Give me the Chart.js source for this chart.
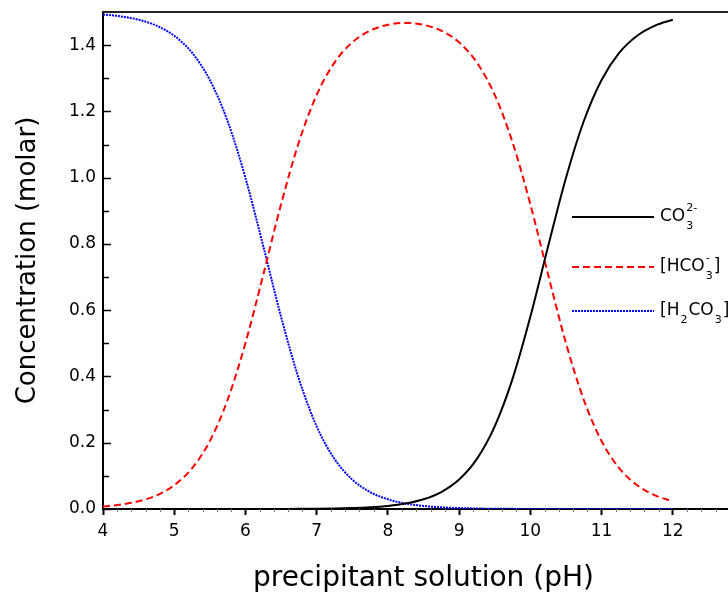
<!DOCTYPE html>
<html>
<head>
<meta charset="utf-8">
<script src="https://cdn.jsdelivr.net/npm/chart.js@4.4.1/dist/chart.umd.min.js"></script>
<style>
  html, body { margin: 0; padding: 0; background: #fff; overflow: hidden; }
  #wrap { width: 728px; height: 596px; overflow: hidden; position: relative; }
  #chart { position: absolute; left: 0; top: 0; }
</style>
</head>
<body>
<div id="wrap"><canvas id="chart" width="780" height="596"></canvas></div>
<script>
// pH values and concentrations (molar)
const phValues = [4, 4.25, 4.5, 4.75, 5, 5.25, 5.5, 5.75, 6, 6.25, 6.5, 6.75, 7, 7.25, 7.5, 7.75,
    8, 8.25, 8.5, 8.75, 9, 9.25, 9.5, 9.75, 10, 10.25, 10.5, 10.75, 11, 11.25, 11.5, 11.75, 12];

const co3 = [0, 0, 0, 0, 0, 0, 0, 0, 0, 0, 0.0002, 0.0004, 0.0008, 0.0015, 0.0028, 0.0051,
    0.0092, 0.0165, 0.0292, 0.0512, 0.0889, 0.1512, 0.2494, 0.3928, 0.5802, 0.7931, 0.9992,
    1.1702, 1.2948, 1.3772, 1.4284, 1.4589, 1.4766];

const hco3 = [0.0075, 0.0133, 0.0234, 0.0411, 0.0716, 0.1228, 0.2052, 0.3298, 0.5008, 0.7069,
    0.9196, 1.1068, 1.2498, 1.3473, 1.4084, 1.4436, 1.4615, 1.4671, 1.4613, 1.4437, 1.4084,
    1.3473, 1.2500, 1.1068, 0.9196, 0.7069, 0.5008, 0.3298, 0.2052, 0.1228, 0.0716, 0.0411, 0.0234];

const h2co3 = [1.4925, 1.4868, 1.4766, 1.4589, 1.4284, 1.3772, 1.2948, 1.1702, 0.9992, 0.7931,
    0.5802, 0.3928, 0.2494, 0.1512, 0.0889, 0.0512, 0.0292, 0.0165, 0.0092, 0.0051, 0.0028,
    0.0015, 0.0008, 0.0004, 0.0002, 0.0001, 0, 0, 0, 0, 0, 0, 0];

const xTicks = [4, 5, 6, 7, 8, 9, 10, 11, 12, 13];
const yTicks = [0, 0.2, 0.4, 0.6, 0.8, 1.0, 1.2, 1.4];

// legend entries: base text, subscript, superscript, trailing text
const legendItems = [
    { base: "CO", sub: "3", sup: "2-", tail: "", color: "#000", dash: [] },
    { base: "[HCO", sub: "3", sup: "-", tail: "]", color: "#ff0000", dash: [7, 4] },
    { base: "[H", sub: "2", sup: "", tail: "CO", sub2: "3", tail2: "]", color: "#0000ff", dash: [2, 1] }
];

function points(ys) {
    return phValues.map((x, i) => ({ x: x, y: ys[i] }));
}

const fontFam = "'DejaVu Sans', sans-serif";

const extrasPlugin = {
    id: "extras",
    afterDraw(chart) {
        const ctx = chart.ctx;
        const area = chart.chartArea;
        const xs = chart.scales.x;
        const ys = chart.scales.y;
        ctx.save();
        // top border
        ctx.strokeStyle = "#222";
        ctx.lineWidth = 2;
        ctx.beginPath();
        ctx.moveTo(area.left - 1, area.top);
        ctx.lineTo(area.right, area.top);
        ctx.stroke();
        // inward y ticks, major and minor
        ctx.strokeStyle = "#000";
        ctx.lineWidth = 1.5;
        for (let i = 0; i <= 14; i++) {
            const v = i / 10;
            const py = Math.round(ys.getPixelForValue(v)) + 0.5;
            const len = (i % 2 === 0) ? 8 : 6;
            ctx.beginPath();
            ctx.moveTo(area.left, py);
            ctx.lineTo(area.left + len, py);
            ctx.stroke();
        }
        // small minor x ticks
        ctx.strokeStyle = "#777";
        ctx.lineWidth = 1;
        for (let i = 0; i <= 45; i++) {
            if (i % 5 === 0) continue;
            const v = 4 + i * 0.2;
            const px = Math.round(xs.getPixelForValue(v)) + 0.5;
            ctx.beginPath();
            ctx.moveTo(px, area.bottom);
            ctx.lineTo(px, area.bottom + 3);
            ctx.stroke();
        }
        // legend
        const x0 = 572, x1 = 654, tx = 660;
        const rows = [217, 267, 311];
        legendItems.forEach((it, k) => {
            const y = rows[k];
            ctx.strokeStyle = it.color;
            ctx.lineWidth = 2;
            ctx.setLineDash(it.dash);
            ctx.beginPath();
            ctx.moveTo(x0, y);
            ctx.lineTo(x1, y);
            ctx.stroke();
            ctx.setLineDash([]);
            ctx.fillStyle = "#000";
            ctx.textBaseline = "middle";
            ctx.textAlign = "left";
            let x = tx;
            ctx.font = "17px " + fontFam;
            ctx.fillText(it.base, x, y);
            x += ctx.measureText(it.base).width;
            ctx.font = "11px " + fontFam;
            ctx.fillText(it.sub, x + 1, y + 9);
            if (it.sup) ctx.fillText(it.sup, x + 1, y - 9);
            x += Math.max(ctx.measureText(it.sub).width, it.sup ? ctx.measureText(it.sup).width : 0) + 2;
            ctx.font = "17px " + fontFam;
            if (it.tail) {
                ctx.fillText(it.tail, x, y);
                x += ctx.measureText(it.tail).width;
            }
            if (it.sub2) {
                ctx.font = "11px " + fontFam;
                ctx.fillText(it.sub2, x + 1, y + 9);
                x += ctx.measureText(it.sub2).width + 2;
                ctx.font = "17px " + fontFam;
                ctx.fillText(it.tail2, x, y);
            }
        });
        ctx.restore();
    }
};

const ctx = document.getElementById("chart").getContext("2d");
new Chart(ctx, {
    type: "line",
    data: {
        datasets: [
            {
                label: "CO3 2-",
                data: points(co3),
                borderColor: "#000",
                borderWidth: 2,
                pointRadius: 0,
                fill: false,
                cubicInterpolationMode: "monotone"
            },
            {
                label: "HCO3 -",
                data: points(hco3),
                borderColor: "#ff0000",
                borderWidth: 2,
                borderDash: [7, 4],
                pointRadius: 0,
                fill: false,
                cubicInterpolationMode: "monotone"
            },
            {
                label: "H2CO3",
                data: points(h2co3),
                borderColor: "#0000ff",
                borderWidth: 2,
                borderDash: [2, 1],
                pointRadius: 0,
                fill: false,
                cubicInterpolationMode: "monotone"
            }
        ]
    },
    options: {
        responsive: false,
        animation: false,
        layout: { padding: { top: 12, right: 36, left: 0, bottom: 0 } },
        plugins: {
            legend: { display: false },
            tooltip: { enabled: false }
        },
        scales: {
            x: {
                type: "linear",
                min: 4,
                max: 13,
                afterBuildTicks: (s) => { s.ticks = xTicks.map(v => ({ value: v })); },
                afterFit: (s) => { s.height = 87; s.paddingLeft = 0; s.paddingRight = 0; },
                border: { display: true, color: "#000", width: 2 },
                grid: { drawOnChartArea: false, drawTicks: true, tickLength: 6, tickWidth: 2, tickColor: "#000" },
                ticks: {
                    color: "#000",
                    padding: 6,
                    maxRotation: 0,
                    font: { family: fontFam, size: 17 },
                    callback: (v) => String(v)
                },
                title: {
                    display: true,
                    text: "precipitant solution (pH)",
                    color: "#000",
                    font: { family: fontFam, size: 28 },
                    padding: { top: 12, bottom: 0 }
                }
            },
            y: {
                type: "linear",
                min: 0,
                max: 1.5,
                afterBuildTicks: (s) => { s.ticks = yTicks.map(v => ({ value: v })); },
                afterFit: (s) => { s.width = 103; s.paddingTop = 0; s.paddingBottom = 0; },
                border: { display: true, color: "#000", width: 2 },
                grid: { drawOnChartArea: false, drawTicks: false },
                ticks: {
                    color: "#000",
                    padding: 7,
                    font: { family: fontFam, size: 17 },
                    callback: (v) => Number(v).toFixed(1)
                },
                title: {
                    display: true,
                    text: "Concentration (molar)",
                    color: "#000",
                    font: { family: fontFam, size: 26 },
                    padding: { top: 13, bottom: 0 }
                }
            }
        }
    },
    plugins: [extrasPlugin]
});
</script>
</body>
</html>
